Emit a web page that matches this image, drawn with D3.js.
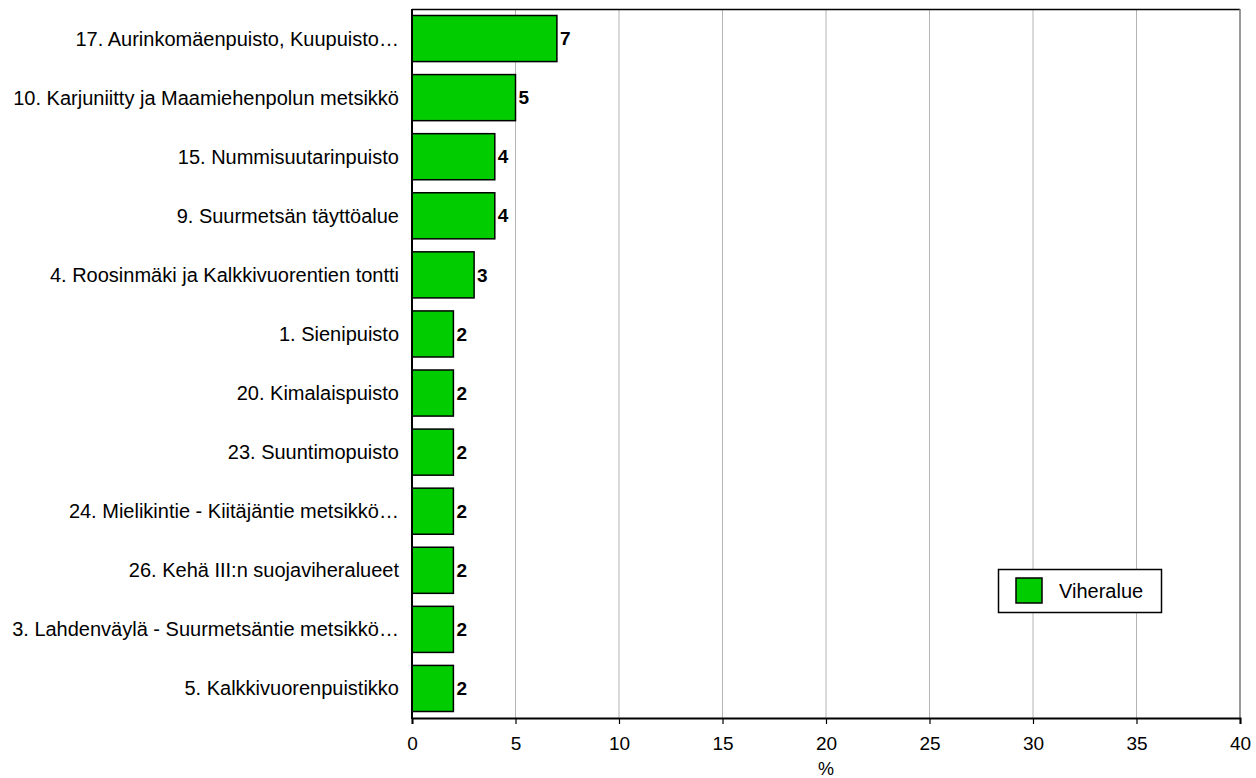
<!DOCTYPE html>
<html><head><meta charset="utf-8">
<script src="https://cdn.jsdelivr.net/npm/d3@7"></script>
<style>body{margin:0;background:#fff}svg{display:block;font-family:"Liberation Sans",Arial,sans-serif}</style>
</head><body>
<svg id="c" width="1256" height="778"></svg>
<script>
const categories = [
  "17. Aurinkomäenpuisto, Kuupuisto…",
  "10. Karjuniitty ja Maamiehenpolun metsikkö",
  "15. Nummisuutarinpuisto",
  "9. Suurmetsän täyttöalue",
  "4. Roosinmäki ja Kalkkivuorentien tontti",
  "1. Sienipuisto",
  "20. Kimalaispuisto",
  "23. Suuntimopuisto",
  "24. Mielikintie - Kiitäjäntie metsikkö…",
  "26. Kehä III:n suojaviheralueet",
  "3. Lahdenväylä - Suurmetsäntie metsikkö…",
  "5. Kalkkivuorenpuistikko"
];
const values = [7, 5, 4, 4, 3, 2, 2, 2, 2, 2, 2, 2];
const xTicks = [0, 5, 10, 15, 20, 25, 30, 35, 40];
const seriesName = "Viheralue";
const axisTitle = "%";

const svg = d3.select("#c");
const L = 412, R = 1240, T = 9, B = 718;
const x = d3.scaleLinear().domain([0, 40]).range([L, R]);
const y = d3.scaleBand().domain(categories).range([T, B]).paddingInner(0.22).paddingOuter(0.11);

// gridlines
svg.append("g").selectAll("line").data(xTicks.filter(d => d > 0 && d < 40)).join("line")
  .attr("x1", d => x(d)).attr("x2", d => x(d)).attr("y1", T).attr("y2", B)
  .attr("stroke", "#b4b4b4").attr("stroke-width", 1);

// frame
svg.append("line").attr("x1", L).attr("x2", R).attr("y1", T + 0.5).attr("y2", T + 0.5).attr("stroke", "#000").attr("stroke-width", 1.5);
svg.append("line").attr("x1", R).attr("x2", R).attr("y1", T).attr("y2", B).attr("stroke", "#777").attr("stroke-width", 1.5);

// bars
svg.append("g").selectAll("rect").data(values).join("rect")
  .attr("x", x(0)).attr("y", (d, i) => y(categories[i]))
  .attr("width", d => x(d) - x(0)).attr("height", y.bandwidth())
  .attr("fill", "#00cc00").attr("stroke", "#000").attr("stroke-width", 1.5);

// value labels
svg.append("g").selectAll("text").data(values).join("text")
  .attr("x", d => x(d) + 3).attr("y", (d, i) => y(categories[i]) + y.bandwidth() / 2)
  .attr("dy", "0.35em").attr("font-size", 19).attr("font-weight", "bold").text(d => d);

// category labels
svg.append("g").selectAll("text").data(categories).join("text")
  .attr("x", 399).attr("y", d => y(d) + y.bandwidth() / 2)
  .attr("dy", "0.35em").attr("text-anchor", "end").attr("font-size", 20).text(d => d);

// x axis
const xa = svg.append("g").attr("transform", `translate(0,${B})`)
  .call(d3.axisBottom(x).tickValues(xTicks).tickSize(6).tickPadding(13).tickFormat(d3.format("d")));
xa.select(".domain").attr("stroke", "#000").attr("stroke-width", 2);
xa.selectAll(".tick line").attr("stroke", "#000").attr("stroke-width", 1.2);
xa.selectAll(".tick text").attr("font-size", 19).attr("font-family", "Liberation Sans, Arial, sans-serif").attr("fill", "#000");

// left axis line
svg.append("line").attr("x1", L).attr("x2", L).attr("y1", T).attr("y2", B + 1).attr("stroke", "#000").attr("stroke-width", 2);

svg.append("text").attr("x", x(20)).attr("y", 775).attr("text-anchor", "middle").attr("font-size", 18).text(axisTitle);

// legend
const lg = svg.append("g");
lg.append("rect").attr("x", 998.5).attr("y", 569.5).attr("width", 163).attr("height", 43)
  .attr("fill", "#fff").attr("stroke", "#000").attr("stroke-width", 1.5);
lg.append("rect").attr("x", 1016).attr("y", 578).attr("width", 26).attr("height", 25)
  .attr("fill", "#00cc00").attr("stroke", "#000").attr("stroke-width", 1.5);
lg.append("text").attr("x", 1059).attr("y", 591).attr("dy", "0.35em").attr("font-size", 20).text(seriesName);
</script>
</body></html>
